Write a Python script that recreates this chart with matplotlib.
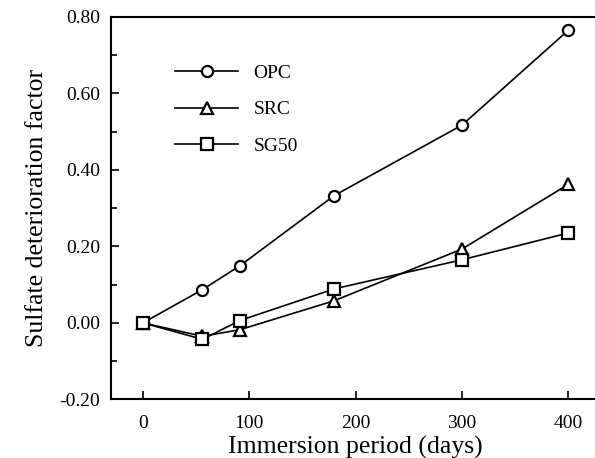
import matplotlib
matplotlib.use("Agg")
import matplotlib.pyplot as plt
from matplotlib.ticker import MultipleLocator

plt.rcParams['font.family'] = ['Liberation Serif', 'DejaVu Serif']

days = [0, 56, 91, 180, 300, 400]
opc = [0.0, 0.087, 0.149, 0.333, 0.517, 0.765]
src = [0.0, -0.035, -0.018, 0.058, 0.193, 0.362]
sg50 = [0.0, -0.043, 0.006, 0.089, 0.165, 0.235]

series = [("OPC", opc, "o"), ("SRC", src, "^"), ("SG50", sg50, "s")]

fig = plt.figure(figsize=(5.95, 4.58), dpi=100)
ax = fig.add_axes([0.1866, 0.128, 0.822, 0.835])

for name, vals, m in series:
    ax.plot(days, vals, color="black", lw=1.2, marker=m, markersize=8,
            markerfacecolor="white", markeredgecolor="black", markeredgewidth=1.6,
            label=name)

ax.set_xlim(-30, 430)
ax.set_ylim(-0.2, 0.8)
ax.set_xticks([0, 100, 200, 300, 400])
ax.set_yticks([-0.2, 0.0, 0.2, 0.4, 0.6, 0.8])
ax.set_yticklabels([f"{v:.2f}" for v in [-0.2, 0.0, 0.2, 0.4, 0.6, 0.8]])
ax.yaxis.set_minor_locator(MultipleLocator(0.1))
ax.tick_params(axis='both', which='major', direction='in', length=6, width=1.2,
               labelsize=14, pad=8)
ax.tick_params(axis='x', which='major', pad=11)
ax.tick_params(axis='y', which='minor', direction='in', length=4, width=1.2)
for s in ax.spines.values():
    s.set_linewidth(1.5)

ax.set_xlabel("Immersion period (days)", fontsize=18.5, labelpad=3)
ax.set_ylabel("Sulfate deterioration factor", fontsize=18.5, labelpad=8)

ax.legend(loc="upper left", bbox_to_anchor=(0.096, 0.922), frameon=False,
          fontsize=14, handlelength=3.2, labelspacing=0.97, handletextpad=0.8)

fig.savefig("out.png", dpi=100)
